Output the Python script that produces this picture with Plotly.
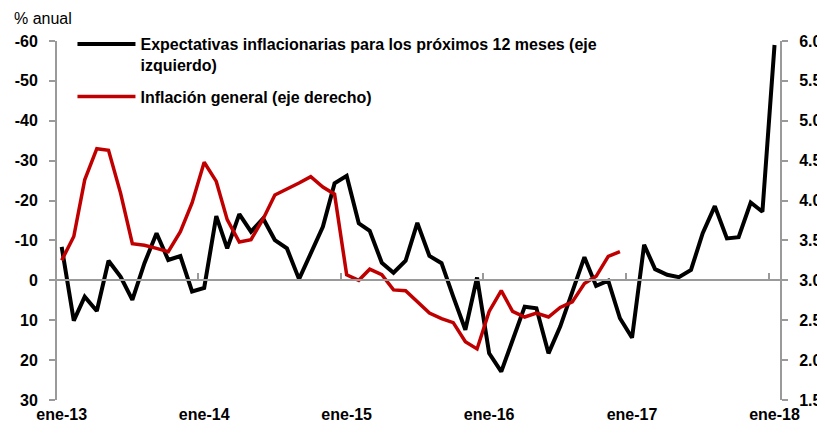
import pandas as pd
import plotly.graph_objects as go

months = pd.date_range("2013-01-01", "2018-01-01", freq="MS")

expectativas = [
    -8.4, 10.1, 4.1, 7.7, -4.9, -0.9, 4.9, -4.3, -11.8, -5.1, -6.1, 2.8,
    1.9, -16.1, -8.0, -16.6, -12.2, -15.5, -10.1, -8.0, -0.3, -6.9, -13.4, -24.3,
    -26.2, -14.3, -12.4, -4.4, -1.9, -4.9, -14.4, -6.1, -4.3, 4.1, 12.4, -0.7,
    18.3, 22.9, 15.0, 6.6, 7.0, 18.3, 11.6, 2.8, -5.8, 1.4, 0.1, 9.5,
    14.4, -8.9, -2.8, -1.4, -0.8, -2.6, -11.8, -18.6, -10.5, -10.8, -19.5, -17.2,
    -59.0,
]

inflacion = [
    3.25, 3.55, 4.26, 4.65, 4.63, 4.09, 3.46, 3.44, 3.40, 3.36, 3.61, 3.97,
    4.48, 4.24, 3.76, 3.48, 3.51, 3.77, 4.07, 4.14, 4.22, 4.30, 4.17, 4.08,
    3.07, 3.00, 3.14, 3.07, 2.88, 2.87, 2.73, 2.59, 2.52, 2.47, 2.23, 2.14,
    2.61, 2.87, 2.61, 2.54, 2.59, 2.54, 2.66, 2.73, 2.96, 3.05, 3.30, 3.36,
]

left_ticks = [-60, -50, -40, -30, -20, -10, 0, 10, 20, 30]
right_ticks = [1.5, 2.0, 2.5, 3.0, 3.5, 4.0, 4.5, 5.0, 5.5, 6.0]
year_ticks = pd.date_range("2013-01-01", "2018-01-01", freq="YS")
year_labels = ["ene-13", "ene-14", "ene-15", "ene-16", "ene-17", "ene-18"]
# category-boundary tick marks (between dic and ene), as in a category axis
boundary_ticks = year_ticks - pd.Timedelta(days=15)

FONT = "Liberation Sans, Arial, sans-serif"
GRAY = "#9a9a9a"

fig = go.Figure()
fig.add_trace(go.Scatter(
    x=months, y=expectativas, mode="lines", legendgroup="a",
    name="Expectativas inflacionarias para los próximos 12 meses (eje<br>izquierdo)",
    line=dict(color="#000000", width=4), xaxis="x", yaxis="y",
))
fig.add_trace(go.Scatter(
    x=months[:len(inflacion)], y=inflacion, mode="lines", legendgroup="b",
    name="Inflación general (eje derecho)",
    line=dict(color="#C00000", width=3.5), xaxis="x2", yaxis="y2",
))

xr = ["2012-12-20", "2018-01-15"]
fig.update_layout(
    width=817, height=427,
    margin=dict(l=49, r=45, t=33, b=35, autoexpand=False),
    paper_bgcolor="white", plot_bgcolor="white",
    font=dict(family=FONT, color="black"),
    showlegend=True,
    legend=dict(
        x=0.0214, y=1.039, xanchor="left", yanchor="top",
        bgcolor="rgba(0,0,0,0)", valign="top", itemwidth=58,
        font=dict(size=16, family=FONT, weight="bold"),
        tracegroupgap=8,
    ),
    xaxis=dict(
        range=xr, type="date", showline=False, showgrid=False, zeroline=False,
        tickvals=year_ticks, ticktext=year_labels, ticks="", automargin=False,
        tickfont=dict(size=16, weight="bold"), ticklabelstandoff=3,
    ),
    xaxis2=dict(
        range=xr, type="date", matches="x", overlaying="x", anchor="free",
        position=(0 - left_ticks[-1]) / (left_ticks[0] - left_ticks[-1]),
        showline=True, linecolor=GRAY, linewidth=2, automargin=False,
        showgrid=False, zeroline=False,
        tickvals=boundary_ticks, ticks="inside", ticklen=6, tickcolor=GRAY, tickwidth=2,
        showticklabels=False,
    ),
    yaxis=dict(
        range=[30, -60], tickvals=left_ticks, ticktext=[str(v) for v in left_ticks],
        showline=True, linecolor=GRAY, linewidth=2, showgrid=False, zeroline=False,
        ticks="outside", ticklen=6, tickcolor=GRAY, tickwidth=2, automargin=False,
        tickfont=dict(size=16, weight="bold"), ticklabelstandoff=8,
    ),
    yaxis2=dict(
        range=[1.5, 6.0], tickvals=right_ticks, ticktext=[f"{v:.1f}" for v in right_ticks],
        overlaying="y", side="right", anchor="x2", automargin=False,
        showline=True, linecolor=GRAY, linewidth=2, showgrid=False, zeroline=False,
        ticks="outside", ticklen=6, tickcolor=GRAY, tickwidth=2,
        tickfont=dict(size=16, weight="bold"), ticklabelstandoff=8,
    ),
    annotations=[dict(
        text="% anual", xref="paper", yref="paper", x=-0.0622, y=1.062,
        xanchor="left", yanchor="middle", showarrow=False,
        font=dict(size=16, family=FONT, color="black"),
    )],
)

fig.write_html("out.html")
